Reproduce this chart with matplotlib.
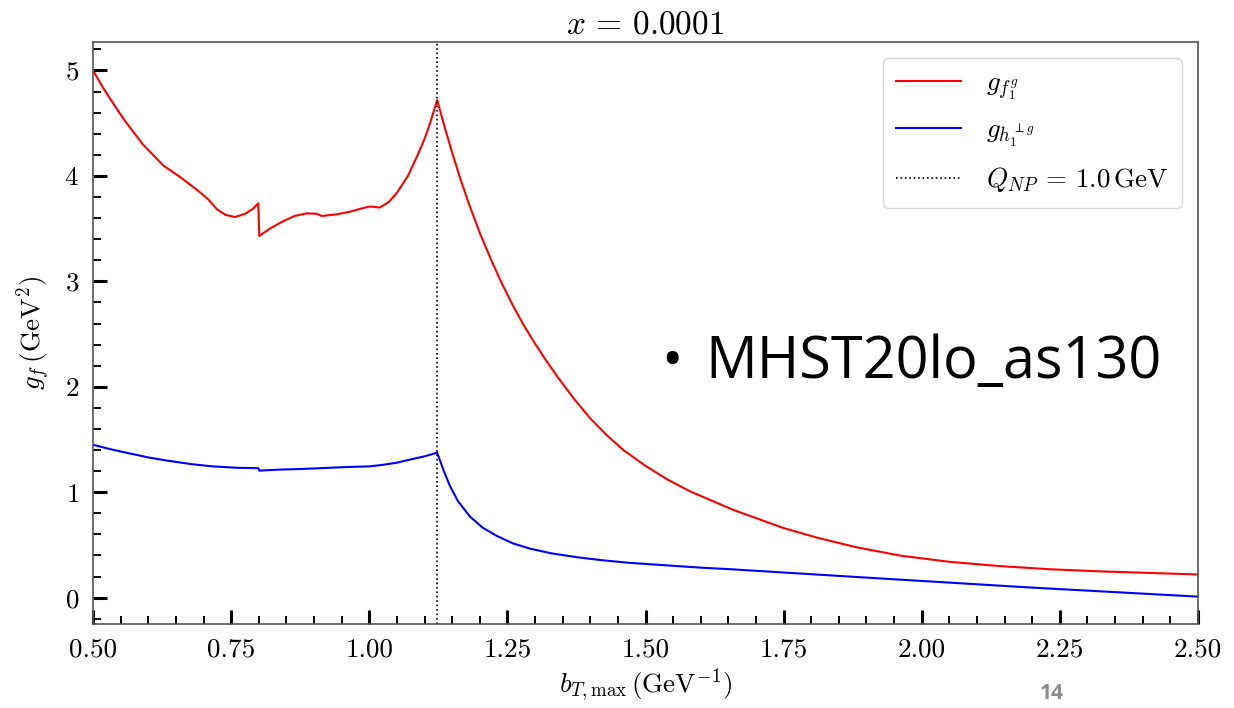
import matplotlib
matplotlib.use("Agg")
import matplotlib.pyplot as plt

plt.rcParams["font.family"] = "serif"
plt.rcParams["font.serif"] = ["cmr10"]
plt.rcParams["mathtext.fontset"] = "cm"
plt.rcParams["axes.formatter.use_mathtext"] = True

# g_f for f_1^g (red)
bt_f1 = [0.500, 0.520, 0.540, 0.558, 0.590, 0.627, 0.660, 0.690, 0.708, 0.725,
         0.740, 0.757, 0.775, 0.790, 0.799, 0.801, 0.820, 0.844, 0.865, 0.887,
         0.905, 0.914, 0.940, 0.965, 0.985, 1.001, 1.019, 1.035, 1.050, 1.070,
         1.086, 1.100, 1.110, 1.1229, 1.135, 1.150, 1.165, 1.180, 1.200, 1.220,
         1.240, 1.260, 1.280, 1.300, 1.320, 1.340, 1.370, 1.400, 1.430, 1.460,
         1.500, 1.540, 1.580, 1.620, 1.660, 1.700, 1.750, 1.810, 1.880, 1.960,
         2.050, 2.140, 2.230, 2.320, 2.410, 2.500]
g_f1 = [5.00, 4.82, 4.66, 4.52, 4.30, 4.10, 3.98, 3.86, 3.78, 3.68,
        3.63, 3.61, 3.64, 3.69, 3.74, 3.43, 3.50, 3.57, 3.62, 3.645,
        3.64, 3.62, 3.635, 3.66, 3.69, 3.71, 3.70, 3.75, 3.84, 4.00,
        4.18, 4.35, 4.50, 4.72, 4.49, 4.22, 3.97, 3.74, 3.46, 3.21,
        2.98, 2.77, 2.58, 2.41, 2.25, 2.10, 1.89, 1.70, 1.54, 1.40,
        1.25, 1.12, 1.01, 0.92, 0.83, 0.755, 0.66, 0.57, 0.48, 0.40,
        0.34, 0.30, 0.27, 0.25, 0.235, 0.22]

# g_f for h_1^{perp g} (blue)
bt_h1 = [0.500, 0.530, 0.560, 0.600, 0.634, 0.680, 0.717, 0.760, 0.799, 0.801,
         0.840, 0.875, 0.920, 0.965, 1.000, 1.025, 1.050, 1.074, 1.100, 1.1229,
         1.135, 1.146, 1.160, 1.182, 1.205, 1.231, 1.260, 1.291, 1.330, 1.381,
         1.425, 1.472, 1.599, 1.653, 1.901, 2.201, 2.500]
g_h1 = [1.45, 1.41, 1.375, 1.33, 1.30, 1.265, 1.245, 1.232, 1.228, 1.205,
        1.215, 1.22, 1.23, 1.24, 1.245, 1.26, 1.28, 1.31, 1.34, 1.375,
        1.20, 1.06, 0.92, 0.77, 0.665, 0.585, 0.515, 0.465, 0.42, 0.38,
        0.353, 0.33, 0.285, 0.27, 0.19, 0.095, 0.01]

Q_NP = 1.0
b_max_NP = 1.1229 / Q_NP  # 2 exp(-gamma_E) / Q_NP

fig = plt.figure(figsize=(12.34, 7.08), dpi=100)
ax = fig.add_axes([0.0754, 0.1186, 0.8954, 0.8221])

ax.plot(bt_f1, g_f1, color="#ff0000", lw=1.5, label=r"$g_{f_1^g}$")
ax.plot(bt_h1, g_h1, color="#0000ff", lw=1.5, label=r"$g_{h_1^{\perp g}}$")
ax.axvline(b_max_NP, color="black", ls=":", lw=1.2,
           label=r"$Q_{NP}\,=\,1.0\,\mathrm{GeV}$")

ax.set_xlim(0.5, 2.5)
ax.set_ylim(-0.25, 5.27)
ax.set_xticks([0.5, 0.75, 1.0, 1.25, 1.5, 1.75, 2.0, 2.25, 2.5])
ax.set_xticklabels(["0.50", "0.75", "1.00", "1.25", "1.50", "1.75", "2.00", "2.25", "2.50"])
ax.set_yticks([0, 1, 2, 3, 4, 5])
ax.set_xticks([0.5 + 0.05 * i for i in range(41)], minor=True)
ax.set_yticks([-0.2 + 0.2 * i for i in range(28)], minor=True)
ax.tick_params(which="both", direction="in", top=False, right=False,
               labelsize=19.5, color="black")
ax.tick_params(which="major", length=10, width=2.2, pad=10)
ax.tick_params(which="minor", length=6, width=1.4)
for sp in ax.spines.values():
    sp.set_color("#555555")
    sp.set_linewidth(1.2)

ax.set_title(r"$x\,=\,0.0001$", fontsize=24, pad=6)
ax.set_xlabel(r"$b_{T,\mathrm{max}}\,(\mathrm{GeV}^{-1})$", fontsize=19.5, labelpad=4)
ax.set_ylabel(r"$g_f\,(\mathrm{GeV}^2)$", fontsize=19.5, labelpad=8)

ax.legend(loc="upper right", fontsize=19.5, handlelength=2.4, handletextpad=0.9,
          labelspacing=0.6, borderpad=0.5, borderaxespad=0.6, edgecolor="0.8")

# slide overlay
fig.text(0.536, 0.487, "\u2022", fontsize=41, family="Open Sans", va="center", ha="left")
fig.text(0.572, 0.487, "MHST20lo_as130", fontsize=41.5, family="Open Sans",
         va="center", ha="left")
fig.text(0.852, 0.02, "14", fontsize=15, family="Open Sans", color="#8c8c8c",
         fontweight="bold", va="center", ha="center")

fig.savefig("out.png", dpi=100)
